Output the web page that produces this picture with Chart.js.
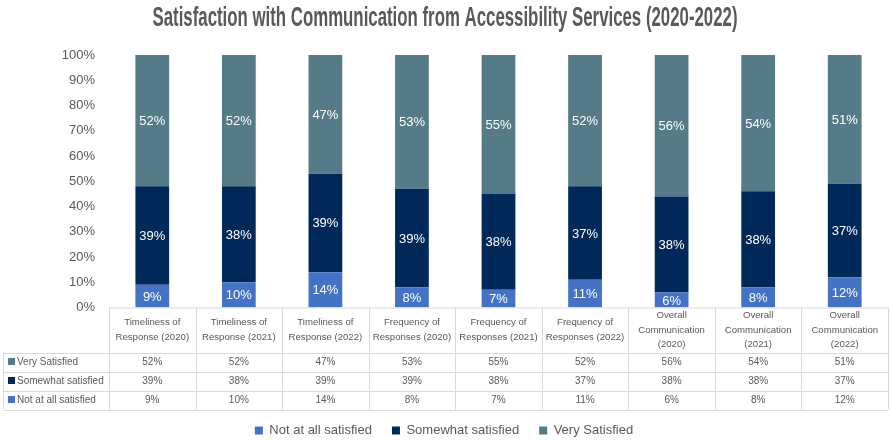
<!DOCTYPE html>
<html>
<head>
<meta charset="utf-8">
<script src="https://cdn.jsdelivr.net/npm/chart.js@4/dist/chart.umd.min.js"></script>
<style>
  html, body { margin: 0; padding: 0; background: #fff; }
  #wrap { width: 890px; height: 440px; }
</style>
</head>
<body>
<div id="wrap"><canvas id="satChart" width="890" height="440"></canvas></div>
<script>
// Survey categories (header cells of the data table)
const categories = [
  ['Timeliness of', 'Response (2020)'],
  ['Timeliness of', 'Response (2021)'],
  ['Timeliness of', 'Response (2022)'],
  ['Frequency of', 'Responses (2020)'],
  ['Frequency of', 'Responses (2021)'],
  ['Frequency of', 'Responses (2022)'],
  ['Overall', 'Communication', '(2020)'],
  ['Overall', 'Communication', '(2021)'],
  ['Overall', 'Communication', '(2022)']
];

// Percent of respondents per answer
const notAtAll = [9, 10, 14, 8, 7, 11, 6, 8, 12];
const somewhat = [39, 38, 39, 39, 38, 37, 38, 38, 37];
const verySatisfied = [52, 52, 47, 53, 55, 52, 56, 54, 51];

const yTicks = [0, 10, 20, 30, 40, 50, 60, 70, 80, 90, 100];

const chartTitle = 'Satisfaction with Communication from Accessibility Services (2020-2022)';

const textGrey = '#595959';
const lineGrey = '#d9d9d9';
const bodyFont = '"Liberation Sans", Arial, sans-serif';

// Title in a tall condensed face
const titlePlugin = {
  id: 'titleBanner',
  afterDraw(chart) {
    const ctx = chart.ctx;
    ctx.save();
    ctx.font = 'bold 27px "Liberation Sans Narrow", "Liberation Sans", sans-serif';
    ctx.fillStyle = textGrey;
    ctx.textBaseline = 'middle';
    ctx.textAlign = 'center';
    const w = ctx.measureText(chartTitle).width;
    const sx = Math.min(1, 585 / w);
    ctx.translate(chart.width / 2, 19);
    ctx.scale(sx, 1);
    ctx.fillText(chartTitle, 0, 0);
    ctx.restore();
  }
};

// White value labels in the middle of each stacked segment
const segmentLabels = {
  id: 'segmentLabels',
  afterDatasetsDraw(chart) {
    const ctx = chart.ctx;
    ctx.save();
    ctx.font = '13px ' + bodyFont;
    ctx.fillStyle = '#ffffff';
    ctx.textAlign = 'center';
    ctx.textBaseline = 'middle';
    chart.data.datasets.forEach((ds, di) => {
      const meta = chart.getDatasetMeta(di);
      meta.data.forEach((bar, i) => {
        const mid = (bar.y + bar.base) / 2;
        ctx.fillText(ds.data[i] + '%', bar.x, mid + 1);
      });
    });
    ctx.restore();
  }
};

// Data table under the plot
const dataTable = {
  id: 'dataTable',
  afterDraw(chart) {
    const ctx = chart.ctx;
    const area = chart.chartArea;
    const xs = chart.scales.x;
    const n = categories.length;
    const colW = (area.right - area.left) / n;
    const top = area.bottom;
    const headBottom = top + 45;
    const rowH = 19;
    const tableLeft = 3.5;
    const rows = [
      { label: 'Very Satisfied', color: chart.data.datasets[2].backgroundColor, values: verySatisfied },
      { label: 'Somewhat satisfied', color: chart.data.datasets[1].backgroundColor, values: somewhat },
      { label: 'Not at all satisfied', color: chart.data.datasets[0].backgroundColor, values: notAtAll }
    ];
    const bottom = headBottom + rowH * rows.length;

    ctx.save();
    ctx.strokeStyle = lineGrey;
    ctx.lineWidth = 1;
    ctx.beginPath();
    // header top
    ctx.moveTo(area.left, top + 0.5);
    ctx.lineTo(area.right, top + 0.5);
    // row lines across the full width
    for (let r = 0; r <= rows.length; r++) {
      const y = Math.round(headBottom + r * rowH) + 0.5;
      ctx.moveTo(tableLeft, y);
      ctx.lineTo(area.right, y);
    }
    // column lines
    for (let c = 0; c <= n; c++) {
      const x = Math.round(area.left + c * colW) + 0.5;
      ctx.moveTo(x, top);
      ctx.lineTo(x, bottom);
    }
    ctx.moveTo(tableLeft, headBottom);
    ctx.lineTo(tableLeft, bottom);
    ctx.stroke();

    ctx.fillStyle = textGrey;
    ctx.font = '9.6px ' + bodyFont;
    ctx.textAlign = 'center';
    ctx.textBaseline = 'middle';
    categories.forEach((lines, i) => {
      const cx = xs.getPixelForValue(i);
      const lh = 14.5;
      const y0 = (top + headBottom) / 2 - (lines.length - 1) * lh / 2;
      lines.forEach((t, k) => ctx.fillText(t, cx, y0 + k * lh));
    });

    ctx.font = '10px ' + bodyFont;
    rows.forEach((row, r) => {
      const cy = headBottom + r * rowH + rowH / 2;
      ctx.fillStyle = row.color;
      ctx.fillRect(8, cy - 4, 7, 7);
      ctx.fillStyle = textGrey;
      ctx.textAlign = 'left';
      ctx.fillText(row.label, 17, cy);
      ctx.textAlign = 'center';
      row.values.forEach((v, i) => {
        ctx.fillText(v + '%', xs.getPixelForValue(i), cy);
      });
    });
    ctx.restore();
  }
};

new Chart(document.getElementById('satChart'), {
  type: 'bar',
  data: {
    labels: categories.map(c => c.join(' ')),
    datasets: [
      { label: 'Not at all satisfied', data: notAtAll, backgroundColor: '#4472C4' },
      { label: 'Somewhat satisfied', data: somewhat, backgroundColor: '#00295A' },
      { label: 'Very Satisfied', data: verySatisfied, backgroundColor: '#567B88' }
    ]
  },
  options: {
    responsive: false,
    animation: false,
    layout: { padding: { top: 55, right: 2, left: 0, bottom: 0 } },
    datasets: {
      bar: { categoryPercentage: 1, barPercentage: 0.39 }
    },
    plugins: {
      title: { display: false },
      tooltip: { enabled: false },
      legend: {
        position: 'bottom',
        maxHeight: 36,
        labels: {
          boxWidth: 8,
          boxHeight: 8,
          padding: 20,
          color: textGrey,
          font: { size: 13, family: bodyFont }
        }
      }
    },
    scales: {
      x: {
        stacked: true,
        grid: { display: false, drawTicks: false },
        border: { display: false },
        ticks: { display: false },
        afterFit: s => { s.height = 96.5; }
      },
      y: {
        stacked: true,
        min: 0,
        max: 100,
        afterBuildTicks: s => { s.ticks = yTicks.map(v => ({ value: v })); },
        grid: { display: false, drawTicks: false },
        border: { display: false },
        ticks: {
          padding: 14,
          color: textGrey,
          font: { size: 13, family: bodyFont },
          callback: v => v + '%'
        },
        afterFit: s => { s.width = 109; }
      }
    }
  },
  plugins: [segmentLabels, dataTable, titlePlugin]
});
</script>
</body>
</html>
